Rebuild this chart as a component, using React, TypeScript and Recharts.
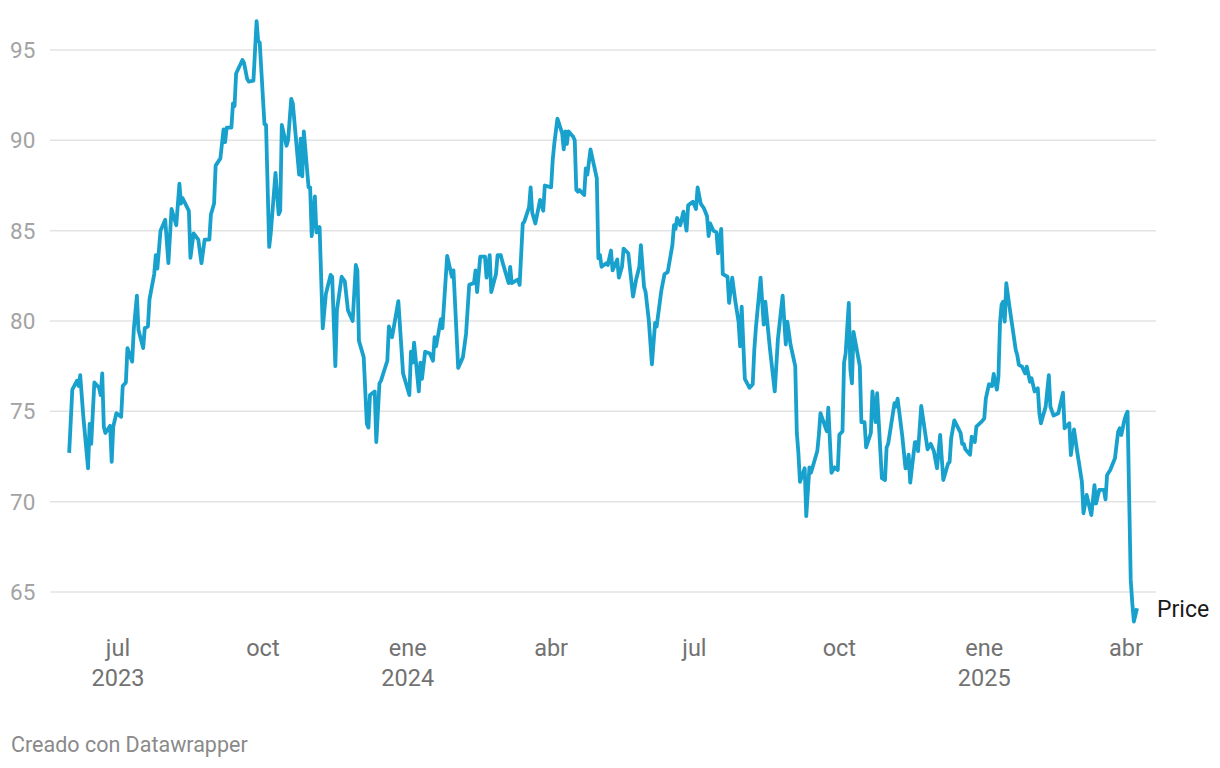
import React from 'react';
import { LineChart, Line, XAxis, YAxis, ReferenceLine } from 'recharts';

const dates: string[] = [
  '2023-05-31','2023-06-02','2023-06-05','2023-06-06','2023-06-07','2023-06-09','2023-06-12','2023-06-13','2023-06-14','2023-06-16',
  '2023-06-19','2023-06-20','2023-06-21','2023-06-22','2023-06-23','2023-06-26','2023-06-27','2023-06-28','2023-06-30','2023-07-03',
  '2023-07-04','2023-07-06','2023-07-07','2023-07-10','2023-07-11','2023-07-13','2023-07-14','2023-07-17','2023-07-18','2023-07-20',
  '2023-07-21','2023-07-24','2023-07-25','2023-07-26','2023-07-28','2023-07-31','2023-08-02','2023-08-04','2023-08-07','2023-08-09',
  '2023-08-10','2023-08-11','2023-08-15','2023-08-16','2023-08-18','2023-08-21','2023-08-23','2023-08-25','2023-08-28','2023-08-29',
  '2023-08-31','2023-09-01','2023-09-04','2023-09-06','2023-09-07','2023-09-08','2023-09-11','2023-09-12','2023-09-13','2023-09-14',
  '2023-09-18','2023-09-19','2023-09-21','2023-09-22','2023-09-25','2023-09-27','2023-09-28','2023-09-29','2023-10-02','2023-10-03',
  '2023-10-05','2023-10-06','2023-10-09','2023-10-11','2023-10-12','2023-10-13','2023-10-16','2023-10-17','2023-10-19','2023-10-20',
  '2023-10-24','2023-10-25','2023-10-26','2023-10-27','2023-10-30','2023-10-31','2023-11-01','2023-11-03','2023-11-04','2023-11-06',
  '2023-11-08','2023-11-10','2023-11-13','2023-11-14','2023-11-16','2023-11-17','2023-11-20','2023-11-22','2023-11-24','2023-11-27',
  '2023-11-29','2023-11-30','2023-12-01','2023-12-04','2023-12-06','2023-12-07','2023-12-08','2023-12-11','2023-12-12','2023-12-14',
  '2023-12-15','2023-12-19','2023-12-20','2023-12-22','2023-12-26','2023-12-29',
  '2024-01-02','2024-01-03','2024-01-04','2024-01-05','2024-01-08','2024-01-09','2024-01-10','2024-01-12','2024-01-15','2024-01-17',
  '2024-01-18','2024-01-19','2024-01-22','2024-01-23','2024-01-26','2024-01-29','2024-01-30','2024-02-02','2024-02-05','2024-02-07',
  '2024-02-09','2024-02-12','2024-02-13','2024-02-14','2024-02-16','2024-02-19','2024-02-20','2024-02-22','2024-02-23','2024-02-26',
  '2024-02-27','2024-02-29','2024-03-01','2024-03-05','2024-03-06','2024-03-07','2024-03-11','2024-03-12','2024-03-14','2024-03-15',
  '2024-03-18','2024-03-19','2024-03-20','2024-03-22','2024-03-25','2024-03-27','2024-03-28','2024-04-01','2024-04-02','2024-04-03',
  '2024-04-05','2024-04-08','2024-04-09','2024-04-10','2024-04-11','2024-04-12','2024-04-15','2024-04-16','2024-04-17','2024-04-18',
  '2024-04-19','2024-04-22','2024-04-23','2024-04-24','2024-04-26','2024-04-30','2024-05-01','2024-05-02','2024-05-03','2024-05-06',
  '2024-05-07','2024-05-09','2024-05-10','2024-05-13','2024-05-14','2024-05-16','2024-05-17','2024-05-20','2024-05-23','2024-05-25',
  '2024-05-27','2024-05-28','2024-05-30','2024-05-31','2024-06-02','2024-06-04','2024-06-06','2024-06-07','2024-06-10','2024-06-12',
  '2024-06-14','2024-06-17','2024-06-18','2024-06-19','2024-06-20','2024-06-22','2024-06-24','2024-06-26','2024-06-27','2024-06-30',
  '2024-07-02','2024-07-03','2024-07-05','2024-07-07','2024-07-09','2024-07-10','2024-07-11','2024-07-13','2024-07-15','2024-07-16',
  '2024-07-18','2024-07-19','2024-07-22','2024-07-23','2024-07-25','2024-07-27','2024-07-29','2024-07-30','2024-07-31','2024-08-02',
  '2024-08-05','2024-08-07','2024-08-08','2024-08-09','2024-08-12','2024-08-14','2024-08-15','2024-08-18','2024-08-21','2024-08-23',
  '2024-08-26','2024-08-28','2024-08-29','2024-08-31','2024-09-03','2024-09-04','2024-09-05','2024-09-06','2024-09-09','2024-09-10',
  '2024-09-12','2024-09-13','2024-09-17','2024-09-18','2024-09-19','2024-09-23','2024-09-24','2024-09-26','2024-09-28','2024-09-30',
  '2024-10-01','2024-10-03','2024-10-04','2024-10-05','2024-10-07','2024-10-08','2024-10-09','2024-10-10','2024-10-14','2024-10-15',
  '2024-10-17','2024-10-18','2024-10-21','2024-10-22','2024-10-24','2024-10-25','2024-10-28','2024-10-30','2024-10-31','2024-11-01',
  '2024-11-05','2024-11-06','2024-11-07','2024-11-10','2024-11-12','2024-11-13','2024-11-14','2024-11-15','2024-11-18','2024-11-19',
  '2024-11-20','2024-11-22','2024-11-26','2024-11-28','2024-11-30','2024-12-02','2024-12-04','2024-12-06','2024-12-09','2024-12-10',
  '2024-12-11','2024-12-13','2024-12-15','2024-12-17','2024-12-18','2024-12-19','2024-12-20','2024-12-23','2024-12-24','2024-12-26',
  '2024-12-27','2024-12-30',
  '2025-01-01','2025-01-02','2025-01-04','2025-01-06','2025-01-07','2025-01-09','2025-01-10','2025-01-11','2025-01-12','2025-01-13',
  '2025-01-14','2025-01-15','2025-01-17','2025-01-21','2025-01-22','2025-01-23','2025-01-25','2025-01-27','2025-01-28','2025-01-30',
  '2025-01-31','2025-02-02','2025-02-04','2025-02-05','2025-02-06','2025-02-09','2025-02-11','2025-02-12','2025-02-14','2025-02-17',
  '2025-02-20','2025-02-21','2025-02-24','2025-02-25','2025-02-27','2025-03-01','2025-03-04','2025-03-05','2025-03-07','2025-03-10',
  '2025-03-12','2025-03-13','2025-03-15','2025-03-18','2025-03-19','2025-03-20','2025-03-22','2025-03-25','2025-03-27','2025-03-28',
  '2025-03-29','2025-03-31','2025-04-01','2025-04-02','2025-04-04','2025-04-05','2025-04-06','2025-04-08',
];

const prices: number[] = [
  72.7, 76.2, 76.7, 76.4, 77.0, 74.7, 71.85, 74.3, 73.2, 76.6,
  76.3, 75.9, 77.1, 74.15, 73.8, 74.2, 72.2, 74.15, 74.9, 74.7,
  76.4, 76.6, 78.5, 77.75, 79.5, 81.4, 79.5, 78.5, 79.6, 79.7,
  81.2, 82.6, 83.65, 82.9, 85.0, 85.6, 83.2, 86.2, 85.3, 87.6,
  86.5, 86.8, 86.1, 83.5, 84.85, 84.5, 83.2, 84.5, 84.5, 85.9,
  86.5, 88.6, 89.0, 90.6, 89.9, 90.7, 90.7, 92.05, 91.9, 93.7,
  94.45, 94.3, 93.4, 93.25, 93.3, 96.6, 95.5, 95.4, 90.9, 90.85,
  84.1, 84.85, 88.2, 85.9, 86.1, 90.85, 89.7, 90.0, 92.3, 92.05,
  88.1, 90.1, 88.0, 90.5, 87.4, 87.4, 84.7, 86.9, 84.9, 85.2,
  79.6, 81.5, 82.55, 82.45, 77.5, 80.6, 82.45, 82.2, 80.6, 80.0,
  83.1, 82.8, 78.9, 78.0, 74.3, 74.1, 75.9, 76.1, 73.3, 76.55,
  76.7, 77.8, 79.7, 79.1, 81.1, 77.1,
  75.9, 78.3, 77.7, 78.8, 76.1, 77.7, 76.8, 78.3, 78.2, 77.8,
  79.1, 78.6, 80.1, 79.6, 83.6, 82.45, 82.8, 77.4, 78.0, 79.3,
  82.0, 82.1, 82.8, 81.6, 83.56, 83.56, 82.4, 83.65, 81.6, 82.6,
  83.65, 83.65, 83.3, 82.1, 83.0, 82.1, 82.3, 82.0, 85.4, 85.5,
  86.3, 87.4, 86.0, 85.4, 86.7, 86.1, 87.5, 87.4, 88.9, 89.8,
  91.2, 90.4, 89.5, 90.5, 89.8, 90.5, 90.2, 90.0, 87.25, 87.16,
  87.25, 86.97, 88.45, 88.1, 89.5, 87.9, 83.47, 83.65, 83.0, 83.2,
  83.1, 83.9, 82.8, 83.4, 82.4, 83.0, 84.0, 83.75, 81.35, 82.3,
  83.0, 84.2, 81.9, 81.6, 80.06, 77.6, 79.9, 79.7, 81.7, 82.6,
  82.7, 84.2, 85.3, 85.1, 85.7, 85.3, 86.05, 85.0, 86.4, 86.6,
  86.2, 87.4, 86.5, 86.24, 85.8, 84.7, 85.4, 85.0, 84.9, 83.75,
  85.1, 82.6, 82.45, 81.0, 82.4, 81.07, 79.96, 78.6, 80.8, 76.8,
  76.3, 76.5, 78.4, 79.6, 82.4, 79.8, 81.07, 78.4, 76.1, 79.0,
  81.4, 78.7, 79.96, 78.7, 77.5, 73.8, 72.7, 71.1, 71.85, 69.2,
  71.9, 71.6, 72.8, 73.7, 74.9, 73.9, 75.2, 71.6, 71.9, 71.75,
  73.7, 73.9, 77.7, 78.2, 81.0, 77.3, 76.55, 79.4, 77.5, 74.4,
  74.4, 73.0, 73.8, 76.1, 74.4, 76.0, 71.3, 71.2, 73.0, 73.2,
  75.45, 75.26, 75.7, 73.6, 71.85, 71.9, 72.6, 71.05, 73.3, 73.3,
  72.8, 75.3, 72.9, 73.2, 72.8, 71.85, 73.7, 71.2, 72.1, 72.2,
  73.5, 74.5, 74.15, 73.8, 73.2, 73.2, 72.9, 72.6, 73.6, 73.3,
  74.15, 74.4,
  74.6, 75.7, 76.5, 76.4, 77.07, 76.2, 76.9, 79.87, 80.9, 81.07,
  79.96, 82.09, 80.8, 78.4, 78.1, 77.57, 77.47, 77.1, 77.47, 76.64,
  76.83, 76.1, 76.27, 74.9, 74.34, 75.26, 77.0, 75.26, 74.76, 74.89,
  76.03, 74.06, 74.34, 72.58, 74.0, 72.77, 71.1, 69.36, 70.37, 69.26,
  70.92, 69.9, 70.65, 70.65, 70.13, 71.48, 71.75, 72.4, 73.87, 74.06,
  73.69, 74.52, 74.8, 74.98, 65.67, 64.38, 63.36, 64.1,
];

const seriesName = 'Price';
const yTicks: number[] = [65, 70, 75, 80, 85, 90, 95];
const xTickDates: string[] = ['2023-07-01', '2023-10-01', '2024-01-01', '2024-04-01', '2024-07-01', '2024-10-01', '2025-01-01', '2025-04-01'];
const xTickMonths: string[] = ['jul', 'oct', 'ene', 'abr', 'jul', 'oct', 'ene', 'abr'];
const xTickYears: string[] = ['2023', '', '2024', '', '', '', '2025', ''];
const footerText = 'Creado con Datawrapper';

const DAY = 86400000;
const toTs = (s: string) => Date.parse(s + 'T00:00:00Z');
const data = dates.map((d, i) => ({ t: toTs(d), price: prices[i] }));
const xTicks = xTickDates.map(toTs);
const anchor = toTs('2023-07-01');
const xDomain: [number, number] = [anchor - 43.17 * DAY, anchor + 659.05 * DAY];

const FONT = 'Roboto, "Noto Sans", Arial, sans-serif';
const LINE_COLOR = '#18a1cd';
const GRID_COLOR = '#e3e3e3';

const XTick = (props: any) => {
  const { x, y, payload } = props;
  const i = xTicks.indexOf(payload.value);
  if (i < 0) return null;
  return (
    <g>
      <text x={x} y={y + 28} textAnchor="middle" fill="#727272" fontSize={23.5} fontFamily={FONT}>
        {xTickMonths[i]}
      </text>
      {xTickYears[i] ? (
        <text x={x} y={y + 58} textAnchor="middle" fill="#727272" fontSize={23.5} fontFamily={FONT}>
          {xTickYears[i]}
        </text>
      ) : null}
    </g>
  );
};

const YTick = (props: any) => {
  const { y, payload } = props;
  return (
    <text x={10} y={y} dy="0.36em" textAnchor="start" fill="#a3a3a3" fontSize={22.5} fontFamily={FONT}>
      {payload.value}
    </text>
  );
};

const EndLabel = (props: any) => {
  const { x, y, index } = props;
  if (index !== data.length - 1) return null;
  return (
    <text x={x + 20} y={y} dy="0.36em" fill="#1a1a1a" fontSize={23} fontFamily={FONT}>
      {seriesName}
    </text>
  );
};

export default function App() {
  return (
    <div style={{ position: 'absolute', left: 0, top: 0, width: 1220, height: 768, background: '#fff' }}>
      <LineChart
        width={1220}
        height={768}
        data={data}
        margin={{ top: 13.867, right: 64, bottom: 99.867, left: 10 }}
      >
        <XAxis
          dataKey="t"
          type="number"
          domain={xDomain}
          allowDataOverflow
          ticks={xTicks}
          axisLine={false}
          tickLine={false}
          tickSize={0}
          tickMargin={0}
          height={40}
          interval={0}
          tick={<XTick />}
        />
        <YAxis
          type="number"
          domain={[63, 97]}
          allowDataOverflow
          ticks={yTicks}
          width={40}
          axisLine={false}
          tickLine={false}
          interval={0}
          tick={<YTick />}
        />
        {yTicks.map((v) => (
          <ReferenceLine key={v} y={v} stroke={GRID_COLOR} strokeWidth={1.5} />
        ))}
        <Line
          type="linear"
          dataKey="price"
          stroke={LINE_COLOR}
          strokeWidth={3.8}
          strokeLinejoin="round"
          dot={false}
          activeDot={false}
          isAnimationActive={false}
          label={<EndLabel />}
        />
      </LineChart>
      <svg width={1220} height={768} style={{ position: 'absolute', left: 0, top: 0, pointerEvents: 'none' }}>
        <text x={11} y={752} fill="#8a8a8a" fontSize={21.5} fontFamily={FONT}>
          {footerText}
        </text>
      </svg>
    </div>
  );
}
